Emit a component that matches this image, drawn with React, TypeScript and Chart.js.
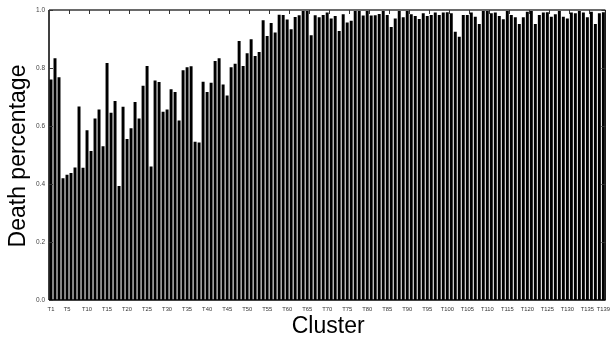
import React, { useEffect, useRef } from "react";
import { Chart, registerables } from "chart.js";

Chart.register(...registerables);

const categories: string[] = Array.from({ length: 139 }, (_, i) => `T${i + 1}`);

const tickLabels: string[] = [
  "T1", "T5", "T10", "T15", "T20", "T25", "T30", "T35", "T40", "T45", "T50",
  "T55", "T60", "T65", "T70", "T75", "T80", "T85", "T90", "T95", "T100",
  "T105", "T110", "T115", "T120", "T125", "T130", "T135", "T139",
];

const yTicks: number[] = [0, 0.2, 0.4, 0.6, 0.8, 1.0];

const deathPercentage: number[] = [
  0.76, 0.834, 0.768, 0.42, 0.432, 0.438, 0.457, 0.667, 0.456, 0.585,
  0.514, 0.626, 0.657, 0.53, 0.817, 0.646, 0.686, 0.393, 0.666, 0.555,
  0.592, 0.683, 0.626, 0.739, 0.807, 0.46, 0.757, 0.752, 0.649, 0.657,
  0.727, 0.717, 0.619, 0.792, 0.803, 0.806, 0.546, 0.543, 0.753, 0.717,
  0.749, 0.824, 0.834, 0.743, 0.705, 0.803, 0.815,
  0.893, 0.807, 0.851, 0.899, 0.841, 0.855, 0.965, 0.91, 0.955, 0.922,
  0.984, 0.983, 0.967, 0.934, 0.976, 0.982, 1.0, 1.0, 0.913, 0.982,
  0.975, 0.983, 0.991, 0.971, 0.979, 0.928, 0.985, 0.957, 0.963, 1.0,
  1.0, 0.981, 1.0, 0.981, 0.982, 0.986, 1.0, 0.983, 0.941,
  0.971, 1.0, 0.975, 1.0, 0.985, 0.979, 0.969, 0.989, 0.979, 0.983,
  0.991, 0.983, 0.991, 0.992, 0.989, 0.925, 0.908, 0.983, 0.983, 0.991,
  0.977, 0.952, 1.0, 1.0, 0.989, 0.991, 0.979, 0.968,
  1.0, 0.983, 0.975, 0.952, 0.975, 0.994, 1.0, 0.952, 0.983, 0.991,
  0.992, 0.977, 0.985, 1.0, 0.977, 0.971, 0.991, 0.989, 1.0, 0.991,
  0.975, 0.994, 0.952, 0.989, 0.992,
];

const xTitle = "Cluster";
const yTitle = "Death percentage";
const FONT = "'Liberation Sans', Arial, Helvetica, sans-serif";

const framePlugin = {
  id: "frame",
  afterDraw(chart: any) {
    const { ctx, chartArea, scales } = chart;
    const { left, right, top, bottom } = chartArea;
    const y = scales.y;
    const n = categories.length;
    const step = (right - left) / n;
    ctx.save();
    const line = (x1: number, y1: number, x2: number, y2: number) => {
      ctx.beginPath();
      ctx.moveTo(x1, y1);
      ctx.lineTo(x2, y2);
      ctx.stroke();
    };
    // top border (gray)
    ctx.strokeStyle = "#6a6a6a";
    ctx.lineWidth = 2;
    line(left, top, right, top);
    // left, bottom, right borders
    ctx.strokeStyle = "#000";
    ctx.lineWidth = 1.5;
    line(left, top, left, bottom);
    line(left, bottom, right, bottom);
    ctx.lineWidth = 1;
    line(right, top, right, bottom);
    // y tick marks (inward, both sides)
    ctx.strokeStyle = "#333";
    ctx.lineWidth = 1;
    for (const v of yTicks) {
      const py = Math.round(y.getPixelForValue(v)) + 0.5;
      line(left, py, left + 4, py);
      line(right - 4, py, right, py);
    }
    // top tick marks every 5 categories
    for (let i = 5; i < n; i += 5) {
      const px = Math.round(left + i * step) + 0.5;
      line(px, top, px, top + 4);
    }
    // axis titles
    ctx.fillStyle = "#000";
    ctx.font = `23px ${FONT}`;
    ctx.textAlign = "center";
    ctx.textBaseline = "middle";
    ctx.fillText(xTitle, (left + right) / 2 + 1, 327);
    ctx.translate(19, (top + bottom) / 2 + 1);
    ctx.rotate(-Math.PI / 2);
    ctx.fillText(yTitle, 0, 0);
    ctx.restore();
  },
};

export default function App() {
  const canvasRef = useRef<HTMLCanvasElement | null>(null);

  useEffect(() => {
    document.body.style.margin = "0";
    const canvas = canvasRef.current;
    if (!canvas) return;
    const chart = new Chart(canvas, {
      type: "bar",
      data: {
        labels: categories,
        datasets: [
          {
            label: yTitle,
            data: deathPercentage,
            backgroundColor: "#000",
            borderWidth: 0,
            barPercentage: 0.74,
            categoryPercentage: 1.0,
          },
        ],
      },
      options: {
        animation: false,
        responsive: false,
        devicePixelRatio: 1,
        layout: { padding: { left: 0, right: 5.5, top: 10, bottom: 0 } },
        plugins: {
          legend: { display: false },
          tooltip: { enabled: false },
          title: { display: false },
        },
        scales: {
          x: {
            type: "category",
            offset: true,
            grid: { display: false, drawTicks: false },
            border: { display: false },
            afterFit: (scale: any) => {
              scale.height = 45;
            },
            ticks: {
              autoSkip: false,
              maxRotation: 0,
              minRotation: 0,
              padding: 6,
              color: "#333",
              font: { family: FONT, size: 5.8 },
              callback: (_v: any, idx: number) =>
                tickLabels.includes(categories[idx]) ? categories[idx] : null,
            },
          },
          y: {
            min: 0,
            max: 1,
            grid: { display: false, drawTicks: false },
            border: { display: false },
            afterFit: (scale: any) => {
              scale.width = 49;
            },
            afterBuildTicks: (scale: any) => {
              scale.ticks = yTicks.map((v) => ({ value: v }));
            },
            ticks: {
              padding: 4,
              color: "#444",
              font: { family: FONT, size: 6.5 },
              callback: (v: any) => Number(v).toFixed(1),
            },
          },
        },
      },
      plugins: [framePlugin],
    });
    return () => chart.destroy();
  }, []);

  return (
    <div style={{ width: 616, height: 345, background: "#fff" }}>
      <canvas ref={canvasRef} width={616} height={345} style={{ display: "block" }} />
    </div>
  );
}
